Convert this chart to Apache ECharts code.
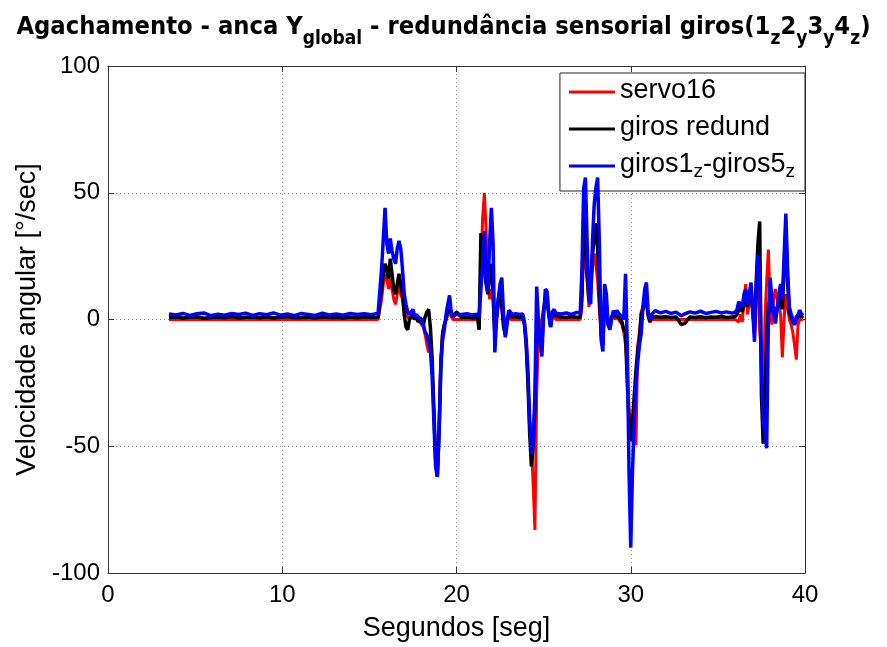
<!DOCTYPE html>
<html>
<head>
<meta charset="utf-8">
<script src="https://cdn.jsdelivr.net/npm/echarts@6/dist/echarts.min.js"></script>
<style>html,body{margin:0;padding:0;background:#fff;}#c{width:887px;height:647px;}</style>
</head>
<body>
<div id="c"></div>
<script>
// Time [s]
const time = [3.5,3.9,4.3,4.7,5.1,5.5,5.9,6.3,6.7,7.1,7.5,7.9,8.3,8.7,9.1,9.5,9.9,10.3,10.7,11.1,11.5,11.9,12.3,12.7,13.1,13.5,13.9,14.3,14.7,15.1,15.5,
15.6,15.7,15.8,15.9,16.0,16.1,16.2,16.3,16.4,16.5,16.6,16.7,16.8,16.9,17.0,17.1,17.2,17.3,17.4,17.5,17.6,17.7,17.8,17.9,18.0,18.1,18.2,18.3,18.4,18.5,18.6,18.7,18.8,18.9,19.0,19.1,19.2,19.3,19.4,19.5,19.6,19.7,19.8,19.9,20.0,
20.3,20.6,20.9,21.2,
21.3,21.4,21.5,21.6,21.7,21.8,21.9,22.0,22.1,22.2,22.3,22.4,22.5,22.6,22.7,22.8,22.9,23.0,23.1,23.2,23.4,23.6,23.8,23.9,24.0,24.1,24.2,24.3,24.4,24.5,24.6,24.7,24.8,24.9,25.0,25.1,25.2,25.3,25.4,25.5,25.6,25.7,
26.0,26.3,26.6,26.9,27.1,
27.2,27.3,27.4,27.5,27.6,27.7,27.8,27.9,28.0,28.1,28.2,28.3,28.4,28.5,28.6,28.7,28.8,28.9,29.0,29.1,29.2,29.3,29.4,29.5,29.6,29.7,29.8,29.9,30.0,30.1,30.2,30.3,30.4,30.5,30.6,30.7,30.8,30.9,31.0,31.1,31.2,31.4,
31.7,32.0,32.3,32.6,32.9,33.1,33.4,33.7,34.0,34.3,34.6,34.9,35.2,35.5,35.8,36.0,
36.1,36.2,36.3,36.4,36.5,36.6,36.7,36.8,36.9,37.0,37.1,37.2,37.3,37.4,37.5,37.6,37.7,37.8,37.9,38.0,38.1,38.2,38.3,38.4,38.5,38.6,38.7,38.8,38.9,39.0,39.1,39.2,39.3,39.4,39.5,39.6,39.7,39.8,39.9];

// servo16 (red)
const servo16 = [0,0,0,0,0,0,0,0,0,0,0,0,0,0,0,0,0,0,0,0,0,0,0,0,0,0,0,0,0,0,0,
0,8,14,18,16,12,16,12,8,6,10,14,10,8,4,2,1,0,2,3,1,2,0,0,-2,-3,-6,-10,-13,-8,-20,-35,-55,-62,-40,-15,-5,-2,0,2,3,1,0,0,0,
0,0,0,0,
2,20,40,50,35,15,8,12,8,-8,0,6,10,4,-2,-5,0,1,0,0,0,0,0,-1,-10,-25,-40,-50,-65,-83,-30,-5,-2,0,4,6,8,2,-2,2,1,0,
0,0,0,0,0,
5,30,30,15,5,10,20,26,22,15,4,-5,-8,5,4,-1,-2,1,2,0,1,0,0,-2,-5,-10,-20,-35,-45,-48,-45,-49.6,-10,-5,3,5,8,6,1,-1,0,0,
0,0,0,0,0,0,0,0,0,0,0,0,0,0,0,0,
0,-1,2,-1,8,14,2,6,10,2,-3,10,20,-5,-13,-40,0,15,27.6,5,-2,8,12,8,6,2,-15,0,10,5,0,-2,-5,-10,-15.8,-2,0,0,0];

// giros redund (black)
const girosRedund = [0.8,1.0,0.6,0.9,1.1,0.5,0.8,1.0,0.7,1.2,0.6,0.9,1.0,0.7,1.1,0.6,0.9,1.2,0.7,0.8,1.0,0.6,1.1,0.8,0.9,0.6,1.0,0.7,1.1,0.8,0.9,
1.5,12,18,22,20,16,24,18,12,10,14,18,14,10,2,-3,-4,0,1,2,0,1,-1,0,-1,-2,1,3,4,-3,-15,-35,-55,-62,-45,-20,-6,-2,0,3,4,2,1,1.2,3,
0.8,1.0,0.7,0.8,
-4,34,30,20,14,10,18,22,10,-6,2,8,12,6,-3,-6,0,2,1.5,1,1.2,0.8,1,-2,-10,-25,-45,-58,-50,-35,-5,-3,-8,-10,4,8,7,2,-3,2,3,1.5,
1,0.8,1.2,0.9,1.0,
10,40,35,18,8,15,25,32,38,28,10,-6,-10,8,6,-2,-3,1,2,1,2,1,1.5,-1,-4,-5,-25,-40,-48,-40,-30,-20,-12,-8,2,4,6,8,2,-1,1,1.2,
0.9,1.1,0.8,1.0,-2,-1.5,1.0,0.8,1.1,0.7,1.0,0.9,1.2,0.8,1.0,1.2,
2,4,5,3,6,8,5,10,12,4,-5,15,30,38.7,-30,-49,-30,-10,5,8,3,5,3,4,6,10,4,20,35,15,3,1,-1,-2,0,1,2,1,1.5];

// giros1z-giros5z (blue)
const girosZ = [2.2,1.8,2.4,1.6,2.3,2.6,1.5,2.1,1.7,2.4,2.0,2.5,1.6,2.3,1.9,2.6,1.7,2.2,1.5,2.4,2.0,1.6,2.5,1.8,2.2,1.7,2.4,2.0,2.3,1.9,2.5,
3,20,32,44,30,26,32,27,24,22,28,31,28,20,10,6,3,2,3,4,1,2,1,1,0,-2,-5,-6,-9,-12,-22,-40,-58,-62,-45,-17,-8,-4,2,6,9.5,3,1,2,2.4,
2.0,2.3,1.8,2.1,
1,12,22,35,15,11,30,44,30,-13,0,8,14,16.5,2,-7,-2,3.7,3,2,2.3,2,2.2,-1,-8,-20,-40,-53,-48,-30,13,0,-10,-14.6,2,12,11,2,-3,3,4,2.5,
2.2,2.6,2.0,2.8,2.5,
20,52,56,30,8,6,30,45,52,56,30,-8,-12.6,14,10,-2,-4,0,3.5,2,3.6,2.5,3,1,0,18,-10,-60,-90,-60,-40,-25,-17,-10,-5.5,5,12,14.6,3,0,2,3.5,
2.6,3.2,2.4,2.9,1.5,2.2,3.0,2.5,3.3,2.4,2.8,3.2,2.6,3.0,2.5,2.9,
4,7,7.6,5,10,12,6,10,14.6,4,-8.8,12,25.6,20,-20,-40,-45,-50.8,0,16.5,8,3,-1.6,4,10,14,8,25,41.8,20,5,2.3,0,-2,1,2,3.7,2,2.5];

const xTicks = [0,10,20,30,40];
const yTicks = [-100,-50,0,50,100];

const pairs = arr => time.map((t,i)=>[t,arr[i]]);
const FONT = 'Liberation Sans';
const TFONT = "'DejaVu Sans Condensed', 'Liberation Sans'";
const chart = echarts.init(document.getElementById('c'), null, {renderer:'canvas'});
const gridLine = {show:true, lineStyle:{color:'#8a8a8a', type:[1,3], width:1}};
chart.setOption({
  backgroundColor:'#fff',
  animation:false,
  title:{
    text:'{n|Agachamento - anca Y}{s|global}{n| - redundância sensorial giros(1}{s|z}{n|2}{s|y}{n|3}{s|y}{n|4}{s|z}{n|)}',
    left:'center', top:10,
    textStyle:{
      rich:{
        n:{fontFamily:TFONT, fontWeight:'bold', fontSize:25.3, color:'#000', lineHeight:34, verticalAlign:'top'},
        s:{fontFamily:TFONT, fontWeight:'bold', fontSize:19, color:'#000', lineHeight:22, verticalAlign:'bottom'}
      }
    }
  },
  legend:{
    orient:'vertical', right:82, top:73,
    backgroundColor:'#fff', borderColor:'#222', borderWidth:1,
    padding:[4,10,10,9], itemGap:10,
    itemWidth:46, itemHeight:3, icon:'rect',
    data:['servo16','giros redund','giros1z-giros5z'],
    formatter:function(name){
      if(name==='giros1z-giros5z') return '{n|giros1}{s|z}{n|-giros5}{s|z}';
      return '{n|'+name+'}';
    },
    textStyle:{
      rich:{
        n:{fontFamily:FONT, fontSize:27, color:'#000', lineHeight:30, verticalAlign:'top'},
        s:{fontFamily:FONT, fontSize:19, color:'#000', lineHeight:14, verticalAlign:'bottom'}
      }
    }
  },
  grid:{left:108, right:82, top:66, bottom:67, show:false},
  xAxis:[{
    type:'value', min:0, max:40, interval:10,
    name:'Segundos [seg]', nameLocation:'middle', nameGap:42,
    nameTextStyle:{fontFamily:FONT, fontSize:27, color:'#000'},
    axisLine:{show:true, onZero:false, lineStyle:{color:'#333', width:1}},
    axisTick:{show:true, inside:true, length:6, lineStyle:{color:'#333'}},
    axisLabel:{fontFamily:FONT, fontSize:24, color:'#000', margin:10,
      formatter:v=>xTicks.includes(v)?String(v):''},
    splitLine:gridLine
  },{
    type:'value', min:0, max:40, interval:10, position:'top',
    axisLine:{show:true, onZero:false, lineStyle:{color:'#333', width:1}},
    axisTick:{show:true, inside:true, length:6, lineStyle:{color:'#333'}},
    axisLabel:{show:false}, splitLine:{show:false}
  }],
  yAxis:[{
    type:'value', min:-100, max:100, interval:50,
    name:'Velocidade angular [°/sec]', nameLocation:'middle', nameGap:62,
    nameTextStyle:{fontFamily:FONT, fontSize:27, color:'#000'},
    axisLine:{show:true, onZero:false, lineStyle:{color:'#333', width:1}},
    axisTick:{show:true, inside:true, length:6, lineStyle:{color:'#333'}},
    axisLabel:{fontFamily:FONT, fontSize:24, color:'#000', margin:8,
      formatter:v=>yTicks.includes(v)?String(v):''},
    splitLine:gridLine
  },{
    type:'value', min:-100, max:100, interval:50, position:'right',
    axisLine:{show:true, onZero:false, lineStyle:{color:'#333', width:1}},
    axisTick:{show:true, inside:true, length:6, lineStyle:{color:'#333'}},
    axisLabel:{show:false}, splitLine:{show:false}
  }],
  series:[
    {name:'servo16', type:'line', data:pairs(servo16), showSymbol:false, color:'#ff0000',
     lineStyle:{width:3, color:'#ff0000'}, itemStyle:{color:'#ff0000'}, z:2},
    {name:'giros redund', type:'line', data:pairs(girosRedund), showSymbol:false, color:'#000000',
     lineStyle:{width:3.5, color:'#000000'}, itemStyle:{color:'#000000'}, z:3},
    {name:'giros1z-giros5z', type:'line', data:pairs(girosZ), showSymbol:false, color:'#0000ff',
     lineStyle:{width:3.5, color:'#0000ff'}, itemStyle:{color:'#0000ff'}, z:4}
  ]
});
</script>
</body>
</html>
